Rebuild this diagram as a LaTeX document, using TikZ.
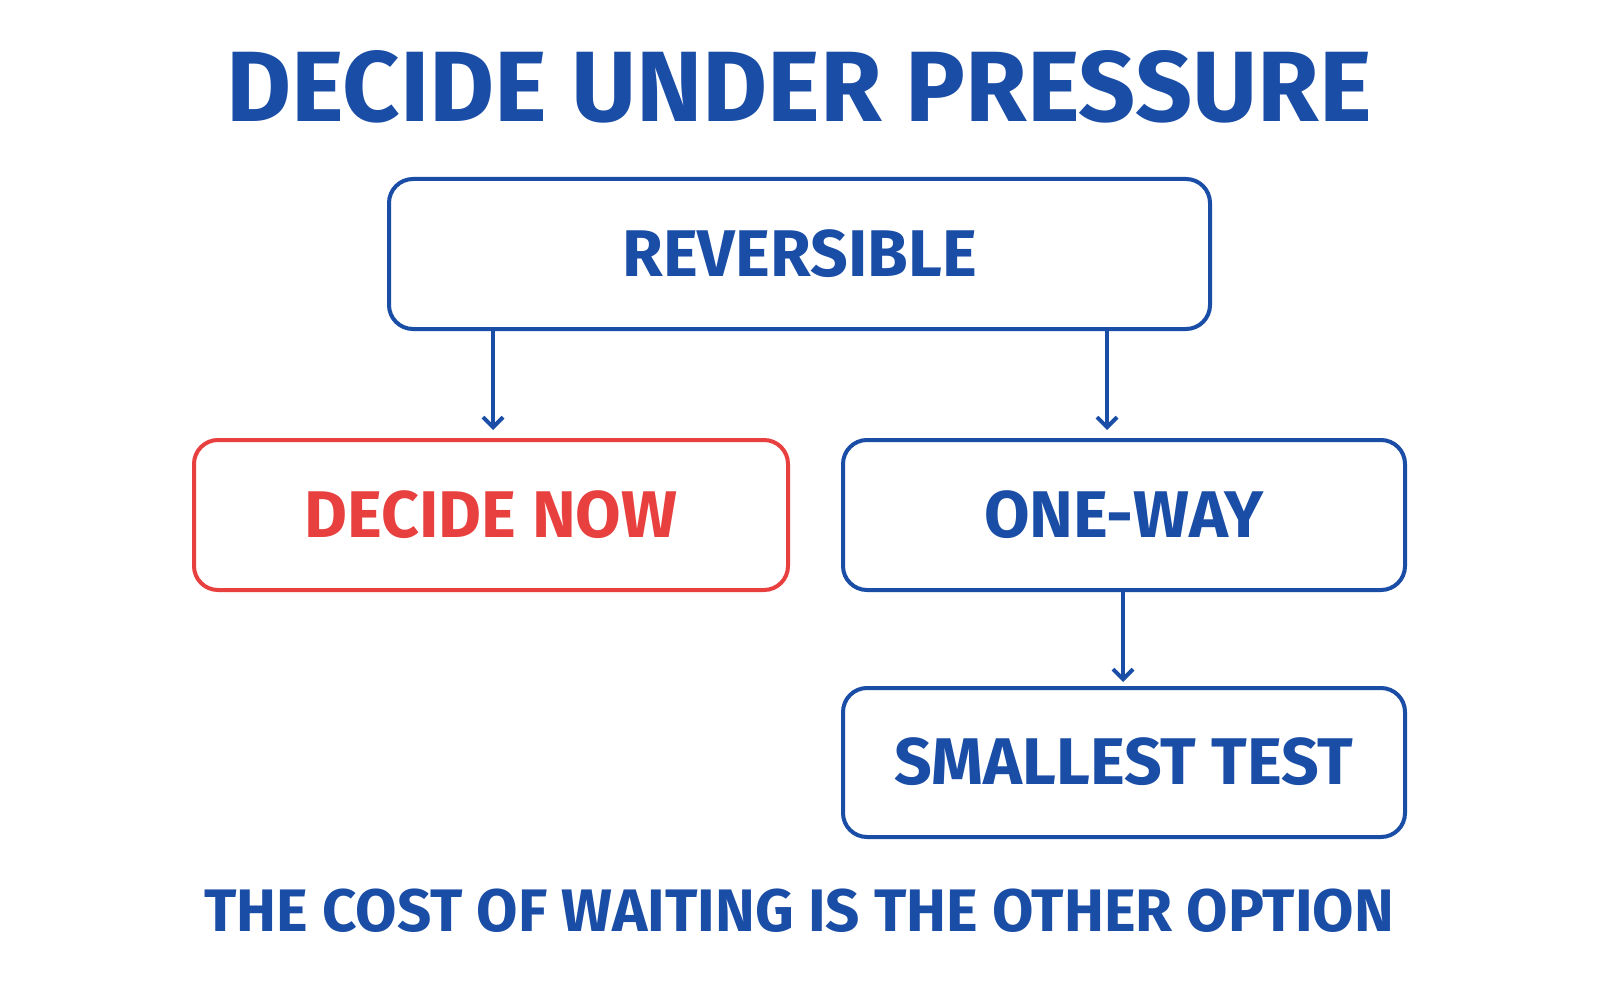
\documentclass[tikz,border=0pt]{standalone}
\usepackage{fontspec}
\usetikzlibrary{arrows.meta}
\setmainfont{Fira Sans}
\definecolor{bl}{HTML}{1A4DA6}
\definecolor{rd}{HTML}{E8403F}
\begin{document}
\begin{tikzpicture}[x=0.5pt,y=-0.5pt,
 box/.style={draw=bl,line width=2pt,rounded corners=12pt,inner sep=0pt},
 lab/.style={font=\fontsize{33}{36}\selectfont\bfseries,text=bl},
 arr/.style={draw=bl,line width=2pt,-{Straight Barb[length=5pt,width=10pt,line width=2pt]}}]
\useasboundingbox[fill=white] (0,0) rectangle (1600,1000);
\node[font=\fontsize{50}{54}\selectfont\bfseries,text=bl] (title) at (799,87) {DECIDE UNDER PRESSURE};
\draw[box] (389,179) rectangle (1210,329);
\node[lab] (rev) at (799.5,254) {REVERSIBLE};
\draw[box,draw=rd] (194,440) rectangle (788,590);
\node[lab,text=rd] (now) at (491,515) {DECIDE NOW};
\draw[box] (843,440) rectangle (1405,590);
\node[lab] (one) at (1124,515) {ONE-WAY};
\draw[box] (843,688) rectangle (1405,837);
\node[lab] (small) at (1124,762) {SMALLEST TEST};
\coordinate (a1) at (493,329); \coordinate (a1e) at (493,430);
\coordinate (a2) at (1107,329); \coordinate (a2e) at (1107,430);
\coordinate (a3) at (1123,590); \coordinate (a3e) at (1123,682);
\draw[arr] (a1) -- (a1e);
\draw[arr] (a2) -- (a2e);
\draw[arr] (a3) -- (a3e);
\node[font=\fontsize{30}{34}\selectfont\bfseries,text=bl] (foot) at (799,911) {THE COST OF WAITING IS THE OTHER OPTION};
\end{tikzpicture}
\end{document}
